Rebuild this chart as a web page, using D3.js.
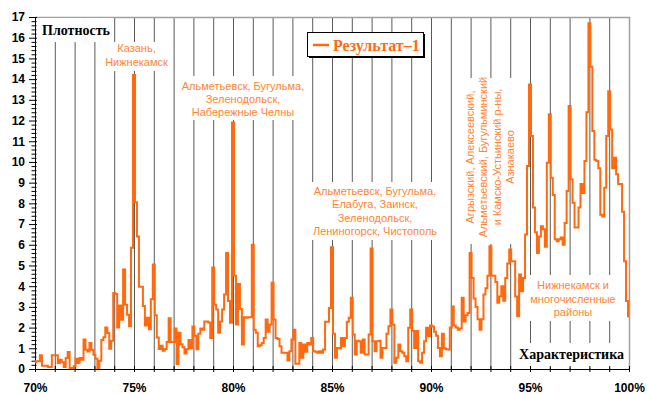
<!DOCTYPE html>
<html>
<head>
<meta charset="utf-8">
<script src="https://cdn.jsdelivr.net/npm/d3@7"></script>
<style>
  html, body { margin: 0; padding: 0; background: #fff; }
  svg { display: block; }
</style>
</head>
<body>
<svg id="chart" width="647" height="394"></svg>
<script>
// ---- data -------------------------------------------------------------
// Share of the characteristic (%), sampled every 0.1 % from 70 % to 100 %
const percentStart = 70;
const percentEnd = 100;
const percentStep = 0.1;

// Density values, one per 0.1 % step (301 values, 70.0 … 100.0)
const density = [
  // 70.0 – 70.9
  0.32, 0.37, 0.37, 0.66, 0.16, 0.16, 0.16, 0.10, 0.10, 0.66,
  // 71.0 – 71.9
  0.66, 0.66, 0.29, 0.45, 0.32, 0.10, 0.53, 0.82, 0.05, 0.05,
  // 72.0 – 72.9
  0.13, 0.50, 0.29, 0.53, 0.45, 1.42, 0.93, 0.85, 1.26, 0.93,
  // 73.0 – 73.9
  0.69, 0.50, 0.05, 0.40, 1.40, 1.53, 2.00, 1.74, 0.98, 1.37,
  // 74.0 – 74.9
  3.67, 3.62, 2.00, 3.07, 2.38, 4.80, 3.10, 2.62, 2.06, 5.85,
  // 75.0 – 75.9
  14.2, 8.05, 6.40, 3.97, 3.97, 3.04, 2.10, 2.48, 1.92, 3.37,
  // 76.0 – 76.9
  5.05, 2.60, 1.52, 0.96, 1.12, 0.88, 0.96, 1.30, 2.45, 1.30,
  // 77.0 – 77.9
  1.30, 1.95, 0.24, 1.75, 1.20, 1.05, 0.75, 0.95, 1.40, 1.00,
  // 78.0 – 78.9
  2.05, 1.60, 0.95, 1.70, 1.95, 1.90, 2.30, 2.30, 2.25, 1.50,
  // 79.0 – 79.9
  4.90, 3.10, 2.87, 1.75, 2.30, 2.87, 3.60, 5.60, 3.28, 2.23,
  // 80.0 – 80.9
  11.9, 4.50, 2.15, 4.10, 2.90, 1.18, 2.50, 2.47, 2.50, 2.50,
  // 81.0 – 81.9
  6.00, 1.90, 1.75, 1.10, 1.15, 1.26, 1.50, 2.39, 1.80, 2.15,
  // 82.0 – 82.9
  4.16, 2.39, 1.50, 1.45, 1.10, 0.78, 0.78, 0.78, 0.41, 0.86,
  // 83.0 – 83.9
  1.42, 1.90, 0.25, 0.25, 1.26, 0.54, 1.18, 0.83, 1.26, 1.18,
  // 84.0 – 84.9
  1.50, 0.86, 0.83, 0.78, 0.86, 0.78, 0.94, 2.28, 2.28, 2.95,
  // 85.0 – 85.9
  5.88, 1.70, 0.54, 1.02, 1.00, 1.50, 1.10, 1.50, 2.28, 2.47,
  // 86.0 – 86.9
  3.44, 1.67, 0.70, 1.37, 1.34, 0.78, 1.42, 0.70, 0.70, 1.67,
  // 87.0 – 87.9
  5.82, 1.34, 0.86, 1.34, 1.37, 0.54, 1.02, 1.02, 1.70, 2.07,
  // 88.0 – 88.9
  2.87, 2.15, 0.30, 0.54, 1.18, 0.86, 0.78, 0.62, 0.38, 1.99,
  // 89.0 – 89.9
  2.87, 1.83, 1.02, 1.83, 0.38, 0.30, 0.78, 1.34, 1.99, 1.59,
  // 90.0 – 90.9
  2.10, 2.05, 1.80, 1.60, 1.02, 0.62, 1.70, 1.00, 0.95, 0.94,
  // 91.0 – 91.9
  2.00, 3.02, 2.10, 2.00, 1.90, 1.95, 3.44, 2.30, 2.60, 2.71,
  // 92.0 – 92.9
  5.60, 4.40, 3.40, 3.00, 2.40, 1.90, 2.40, 3.60, 3.90, 4.50,
  // 93.0 – 93.9
  5.93, 4.50, 4.50, 4.20, 3.20, 3.50, 4.00, 3.30, 4.40, 5.10,
  // 94.0 – 94.9
  5.77, 5.20, 5.20, 3.50, 2.55, 4.56, 3.76, 4.40, 6.50, 9.80,
  // 95.0 – 95.9
  13.74, 11.25, 7.80, 6.60, 5.60, 6.40, 6.90, 6.75, 5.90, 9.96,
  // 96.0 – 96.9
  12.30, 9.24, 8.40, 6.27, 6.17, 6.27, 6.35, 6.00, 7.05, 8.60,
  // 97.0 – 97.9
  12.70, 9.16, 8.03, 6.83, 6.83, 7.80, 8.93, 8.50, 10.04, 12.40,
  // 98.0 – 98.9
  16.70, 14.60, 11.50, 10.10, 10.04, 9.70, 7.45, 7.37, 8.75, 11.25,
  // 99.0 – 99.9
  13.42, 11.57, 9.70, 10.20, 9.40, 8.93, 8.93, 7.60, 5.20, 3.28,
  // 100.0
  2.55
];

const yTickValues = d3.range(0, 18);                 // 0 … 17
const xTickValues = d3.range(70, 101);               // every 1 %
const xLabelValues = [70, 75, 80, 85, 90, 95, 100];  // labelled ticks
const gridValues = d3.range(71, 100);                // vertical grid lines

const seriesName = "Результат–1";
const yTitle = "Плотность";
const xTitle = "Характеристика";

const noteKazan = ["Казань,", "Нижнекамск"];
const noteCities1 = ["Альметьевск, Бугульма,", "Зеленодольск,", "Набережные Челны"];
const noteCities2 = ["Альметьевск, Бугульма,", "Елабуга, Заинск,", "Зеленодольск,", "Лениногорск, Чистополь"];
const noteDistricts = ["Агрызский, Алексеевский,", "Альметьевский, Бугульминский", "и Камско-Устьинский р-ны,", "Азнакаево"];
const noteTail = ["Нижнекамск и", "многочисленные", "районы"];

// ---- drawing ----------------------------------------------------------
const svg = d3.select("#chart");
const sans = "Arial, 'Liberation Sans', sans-serif";
const serif = "'Times New Roman', 'Liberation Serif', serif";
const lineColor = "#ff6a10";
const noteColor = "#ff8433";

const x = d3.scaleLinear().domain([percentStart, percentEnd]).range([35, 629]);
const y = d3.scaleLinear().domain([0, 17]).range([369, 17]);

svg.append("rect").attr("width", 647).attr("height", 394).attr("fill", "#fff");

// vertical grid
svg.append("g")
  .selectAll("line")
  .data(gridValues)
  .join("line")
  .attr("x1", d => x(d) + 0.5).attr("x2", d => x(d) + 0.5)
  .attr("y1", y(0)).attr("y2", y(17))
  .attr("stroke", "#5a5a5a").attr("stroke-width", 1);

// plot frame (top and right)
svg.append("path")
  .attr("d", `M${x(percentStart)},${y(17) + 0.5}H${x(percentEnd) + 0.5}V${y(0)}`)
  .attr("fill", "none").attr("stroke", "#a0a0a0").attr("stroke-width", 1.5);

// white text boxes that sit over the grid
const boxes = [
  [37, 18, 76, 24],     // y title
  [103, 42, 66, 29],    // Kazan note
  [181, 76, 124, 44],   // cities note 1
  [308, 182, 132, 58],  // cities note 2
  [461, 78, 58, 166],   // districts note (rotated)
  [524, 275, 95, 46],   // tail note
  [515, 343, 112, 25]   // x title
];
svg.append("g")
  .selectAll("rect")
  .data(boxes)
  .join("rect")
  .attr("x", d => d[0]).attr("y", d => d[1])
  .attr("width", d => d[2]).attr("height", d => d[3])
  .attr("fill", "#fff");

// y axis with minor ticks
const yMinor = d3.range(0, 17.001, 0.2).filter(v => Math.abs(v - Math.round(v)) > 1e-6);
const gyMinor = svg.append("g").attr("transform", "translate(35,0)")
  .call(d3.axisLeft(y).tickValues(yMinor).tickSize(3.5).tickSizeOuter(0).tickFormat(""));
gyMinor.select(".domain").remove();
gyMinor.selectAll(".tick line").attr("x1", 1.5).attr("stroke", "#000");

const gy = svg.append("g").attr("transform", "translate(35,0)")
  .call(d3.axisLeft(y).tickValues(yTickValues).tickSize(6).tickSizeOuter(0).tickPadding(4)
    .tickFormat(d3.format("d")));
gy.select(".domain").attr("stroke", "#000");
gy.selectAll(".tick line").attr("x1", 2).attr("stroke", "#000");
gy.selectAll(".tick text")
  .attr("font-family", sans).attr("font-size", 12).attr("font-weight", "bold").attr("fill", "#000");

// x axis
const gx = svg.append("g").attr("transform", `translate(0,${y(0)})`)
  .call(d3.axisBottom(x).tickValues(xTickValues).tickSize(3).tickSizeOuter(0).tickPadding(11)
    .tickFormat(d => xLabelValues.includes(d) ? d + "%" : ""));
gx.select(".domain").attr("stroke", "#000");
gx.selectAll(".tick line").attr("y1", -3).attr("stroke", "#000");
gx.selectAll(".tick text")
  .attr("font-family", sans).attr("font-size", 12).attr("font-weight", "bold").attr("fill", "#000");

// density series as a stepped line
const points = density.map((v, i) => ({ p: percentStart + i * percentStep, v }));
const stepLine = d3.line().x(d => x(d.p)).y(d => y(d.v)).curve(d3.curveStep);
svg.append("path")
  .datum(points)
  .attr("d", stepLine)
  .attr("fill", "none")
  .attr("stroke", lineColor)
  .attr("stroke-width", 2)
  .attr("stroke-linejoin", "miter");

// notes
function note(lines, cx, baseline, gap) {
  const t = svg.append("text")
    .attr("font-family", sans).attr("font-size", 11).attr("fill", noteColor)
    .attr("text-anchor", "middle");
  lines.forEach((s, i) => t.append("tspan").attr("x", cx).attr("y", baseline + i * gap).text(s));
}
note(noteKazan, 136.5, 52, 14);
note(noteCities1, 243, 90, 13);
note(noteCities2, 375, 195, 13.3);
note(noteTail, 573, 289, 13.5);

// rotated note
const rot = svg.append("g").attr("transform", "translate(474,157) rotate(-90)");
noteDistricts.forEach((s, i) => {
  rot.append("text")
    .attr("x", 0).attr("y", i * 13.4)
    .attr("font-family", sans).attr("font-size", 11).attr("fill", noteColor)
    .attr("text-anchor", "middle")
    .text(s);
});

// axis titles
svg.append("text").attr("x", 42).attr("y", 35)
  .attr("font-family", serif).attr("font-size", 14).attr("font-weight", "bold").attr("fill", "#000")
  .text(yTitle);
svg.append("text").attr("x", 624).attr("y", 359).attr("text-anchor", "end")
  .attr("font-family", serif).attr("font-size", 14).attr("font-weight", "bold").attr("fill", "#000")
  .text(xTitle);

// legend
const lg = svg.append("g");
lg.append("rect").attr("x", 309).attr("y", 34).attr("width", 116).attr("height", 24).attr("fill", "#000");
lg.append("rect").attr("x", 307.5).attr("y", 32.5).attr("width", 116).attr("height", 24)
  .attr("fill", "#fff").attr("stroke", "#000").attr("stroke-width", 1);
lg.append("line").attr("x1", 313).attr("x2", 329).attr("y1", 45).attr("y2", 45)
  .attr("stroke", lineColor).attr("stroke-width", 2.5);
lg.append("text").attr("x", 333).attr("y", 51)
  .attr("font-family", serif).attr("font-size", 16).attr("font-weight", "bold").attr("fill", "#ff6a10")
  .text(seriesName);
</script>
</body>
</html>
